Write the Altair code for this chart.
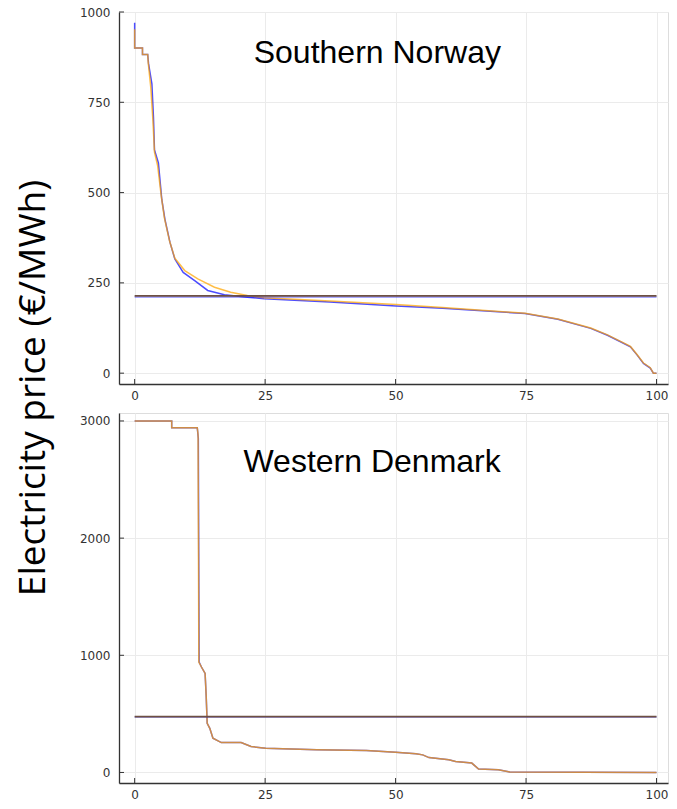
import altair as alt
import pandas as pd

# ---------------- data ----------------
# Southern Norway, blue series (share of hours %, price €/MWh)
no_blue_x = [0, 0, 1.5, 1.5, 2.5, 2.66, 3.3, 3.6, 3.8, 4.55, 5.2, 5.8, 6.77, 7.7, 9.3, 11.5, 14.0, 17.2,
             21.6, 24.8, 37.4, 50.1, 59, 74.8, 81.1, 87.4, 90.6, 93.1, 95, 96.3, 97.5, 98.8, 99.4, 100]
no_blue_y = [970, 900, 900, 882, 882, 857, 801, 710, 618, 582, 481, 426, 362, 316, 279, 256, 229, 217,
             210.5, 206, 197, 186, 180, 165, 149, 124, 105, 87, 73, 50, 27, 14, 0, 0]
# Southern Norway, orange series
no_orange_x = [0, 0, 1.5, 1.5, 2.5, 2.6, 3.1, 3.5, 3.8, 4.4, 5.1, 5.7, 6.7, 7.7, 9.6, 12.1, 15.3, 18.4,
               21.6, 24.8, 37.4, 50.1, 59, 74.8, 81.1, 87.4, 90.6, 93.1, 95, 96.3, 97.5, 98.8, 99.4, 100]
no_orange_y = [952, 900, 900, 882, 882, 860, 790, 700, 612, 575, 490, 430, 365, 318, 284, 261, 238, 224,
               215, 209, 200, 190, 182, 166, 150, 125, 106, 88, 74, 51, 28, 15, 0, 0]
# Western Denmark, blue series
dk_blue_x = [0, 7.1, 7.1, 12.0, 12.2, 12.35, 12.8, 13.5, 13.7, 13.9, 14.4, 15.0, 16.6, 20.4, 22.3, 25.1,
             34.9, 44.4, 50, 53.9, 55.2, 56.4, 60.2, 61.5, 64.6, 65.9, 69.7, 71.9, 100]
dk_blue_y = [3000, 3000, 2943, 2943, 2850, 943, 900, 845, 660, 420, 377, 292, 255, 255, 221, 207,
             193, 187, 173, 159, 150, 127, 108, 93, 80, 29, 23, 3, 0]
# Western Denmark, orange series
dk_orange_x = [0, 7.1, 7.1, 12.0, 12.15, 12.3, 12.8, 13.5, 13.7, 13.9, 14.4, 15.0, 16.6, 20.4, 22.3, 25.1,
               34.9, 44.4, 50, 53.9, 55.2, 56.4, 60.2, 61.5, 64.6, 65.9, 69.7, 71.9, 100]
dk_orange_y = [3000, 3000, 2943, 2943, 2884, 943, 900, 845, 660, 420, 377, 292, 255, 255, 221, 207,
               193, 187, 173, 159, 150, 127, 108, 93, 80, 29, 23, 3, 0]

# average price lines
no_mean_blue, no_mean_orange = 211, 214
dk_mean_blue, dk_mean_orange = 474, 477
mean_x = [0, 100]

x_ticks = [0, 25, 50, 75, 100]
no_y_ticks = [0, 250, 500, 750, 1000]
dk_y_ticks = [0, 1000, 2000, 3000]

region_labels = ["Southern Norway", "Western Denmark"]
label_pos_x = [46.5, 45.5]
label_pos_y = [860, 2563]
y_title = "Electricity price (€/MWh)"

BLUE = "#0000ff"
ORANGE = "#ffa500"
BROWN = "#6e5043"
W = 549


def series_df(xs, ys):
    return pd.DataFrame({"x": xs, "y": ys, "i": range(len(xs))})


def panel(bx, by, ox, oy, mb, mo, yticks, ydom, h, label, lx, ly, extra=None):
    xs = alt.Scale(domain=[-3, 102.2], nice=False, zero=False)
    ys = alt.Scale(domain=ydom, nice=False, zero=False)
    xax = alt.Axis(values=x_ticks, title=None, grid=True, ticks=False, labelPadding=6, format="d",
                   domainColor="#333333", domainWidth=1.3, gridColor="#ebebeb",
                   labelFont="DejaVu Sans", labelFontSize=12, labelColor="#333333", labelFlush=False)
    yax = alt.Axis(values=yticks, title=None, grid=True, ticks=False, labelPadding=9, format="d",
                   domainColor="#333333", domainWidth=1.3, gridColor="#ebebeb",
                   labelFont="DejaVu Sans", labelFontSize=12, labelColor="#333333", labelFlush=False)

    blue = alt.Chart(series_df(bx, by)).mark_line(color=BLUE, strokeWidth=1.5, opacity=0.7).encode(
        x=alt.X("x:Q", scale=xs, axis=xax), y=alt.Y("y:Q", scale=ys, axis=yax), order="i:Q")
    orange = alt.Chart(series_df(ox, oy)).mark_line(color=ORANGE, strokeWidth=1.5, opacity=0.72).encode(
        x="x:Q", y="y:Q", order="i:Q")
    mean_b = alt.Chart(pd.DataFrame({"x": mean_x, "y": [mb, mb]})).mark_line(
        color=BLUE, strokeWidth=1.5, opacity=0.45).encode(x="x:Q", y="y:Q")
    mean_o = alt.Chart(pd.DataFrame({"x": mean_x, "y": [mo, mo]})).mark_line(
        color=BROWN, strokeWidth=1.8).encode(x="x:Q", y="y:Q")
    ytk = alt.Chart(pd.DataFrame({"v": yticks})).mark_rule(color="#333333", strokeWidth=1).encode(
        y="v:Q", x=alt.value(0), x2=alt.value(5))
    xtk = alt.Chart(pd.DataFrame({"v": x_ticks})).mark_rule(color="#333333", strokeWidth=1).encode(
        x="v:Q", y=alt.value(h), y2=alt.value(h - 5))
    txt = alt.Chart(pd.DataFrame({"x": [lx], "y": [ly], "t": [label]})).mark_text(
        font="Liberation Sans", fontSize=32, color="black", align="center", baseline="alphabetic").encode(
        x="x:Q", y="y:Q", text="t:N")
    layers = [ytk, xtk, blue, orange, mean_b, mean_o, txt]
    if extra is not None:
        layers.append(extra)
    return alt.layer(*layers).properties(width=W, height=h)


ytitle = alt.Chart(pd.DataFrame({"t": [y_title]})).mark_text(
    font="Open Sans", fontSize=37, color="black", angle=270, align="center", baseline="middle").encode(
    x=alt.value(-85), y=alt.value(-25), text="t:N")

top = panel(no_blue_x, no_blue_y, no_orange_x, no_orange_y, no_mean_blue, no_mean_orange,
            no_y_ticks, [-30, 1000], 372, region_labels[0], label_pos_x[0], label_pos_y[0])
bottom = panel(dk_blue_x, dk_blue_y, dk_orange_x, dk_orange_y, dk_mean_blue, dk_mean_orange,
               dk_y_ticks, [-90, 3068], 370, region_labels[1], label_pos_x[1], label_pos_y[1], extra=ytitle)

chart = alt.vconcat(top, bottom, spacing=29, bounds="flush").properties(
    padding={"left": 6, "top": -3, "right": 0, "bottom": 0}
).configure_view(stroke=None).configure(background="white")

chart.save("out.html", embed_options={"renderer": "svg", "actions": False})
